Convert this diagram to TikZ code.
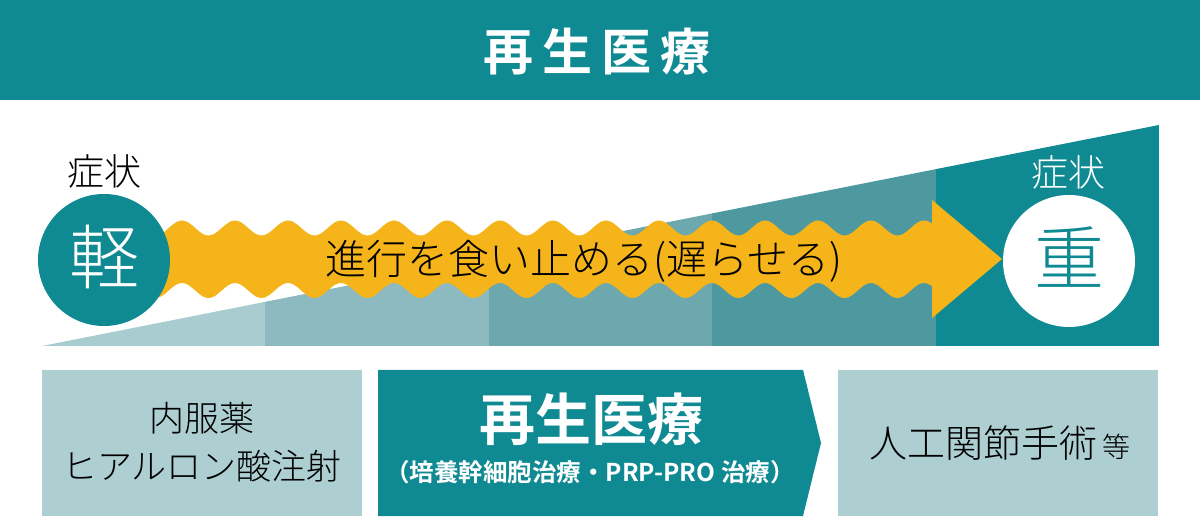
\documentclass[tikz,border=0pt]{standalone}
\usepackage{fontspec}
\newfontfamily\jp{Noto Sans CJK JP}[BoldFont={Noto Sans CJK JP Bold}]
\newfontfamily\jplight{Noto Sans CJK JP Light}
\definecolor{tealmain}{HTML}{0F8A92}
\definecolor{tealpale}{HTML}{AECFD2}
\definecolor{stepA}{HTML}{A8CCCF}
\definecolor{stepB}{HTML}{8CBAC0}
\definecolor{stepC}{HTML}{6CA8AE}
\definecolor{stepD}{HTML}{4E99A0}
\definecolor{arrowyellow}{HTML}{F5B41A}

\begin{document}
\begin{tikzpicture}[line cap=round,line join=round,x=1pt,y=-1pt,
  jptext/.style={inner sep=0pt,font=\jplight},
  jpbold/.style={inner sep=0pt,font=\jp\bfseries,text=white},
  wave/.style={samples=300}]
\useasboundingbox (0,0) rectangle (1200,518);
% header
\fill[tealmain] (0,0) rectangle (1200,100);
\draw (597,52) node[jpbold] (header) {\fontsize{50}{50}\selectfont 再\hspace{9pt}生\hspace{9pt}医\hspace{9pt}療};
% wedge
\begin{scope}
  \clip (42,346) -- (1159,125) -- (1159,346) -- cycle;
  \fill[stepA] (42,120) rectangle (265.4,346);
  \fill[stepB] (265.4,120) rectangle (488.8,346);
  \fill[stepC] (488.8,120) rectangle (712.2,346);
  \fill[stepD] (712.2,120) rectangle (935.6,346);
  \fill[tealmain] (935.6,120) rectangle (1159,346);
\end{scope}
% wavy arrow
\fill[arrowyellow] plot[wave,domain=110:934] (\x,{228-7.5*cos(6.7925*(\x-235))})
  -- plot[wave,domain=934:110] (\x,{290.5-7.5*cos(6.7925*(\x-235))}) -- cycle;
\fill[arrowyellow] (932,200) -- (1002,259) -- (932,318) -- cycle;
\draw (584,261) node[jptext] (progress) {\fontsize{41}{41}\selectfont 進行を食い止める(遅らせる)};
% ends
\fill[tealmain] (104,260) circle (66);
\fill[white] (1069,261) circle (66);
\draw (104,257) node[jptext,text=white] (mild) {\fontsize{70}{70}\selectfont 軽};
\draw (1069,257) node[jptext,text=tealmain] (severe) {\fontsize{70}{70}\selectfont 重};
\draw (104,171) node[jptext] (symA) {\fontsize{37}{37}\selectfont 症状};
\draw (1068,172) node[jptext,text=white] (symB) {\fontsize{37}{37}\selectfont 症状};
% treatments
\fill[tealpale] (42,370) rectangle (362,516);
\fill[tealmain] (378,370) -- (803,370) -- (821,443) -- (803,516) -- (378,516) -- cycle;
\fill[tealpale] (838,370) rectangle (1158,516);
\draw (202,418) node[jptext] (drugA) {\fontsize{35}{35}\selectfont 内服薬};
\draw (202,466) node[jptext] (drugB) {\fontsize{35}{35}\selectfont ヒアルロン酸注射};
\draw (591,419) node[jpbold] (regen) {\fontsize{56}{56}\selectfont 再生医療};
\draw (590,472) node[jpbold] (regensub) {\fontsize{24.5}{24.5}\selectfont （培養幹細胞治療・PRP-PRO 治療）};
\draw (1000,443) node[jptext] (surgery) {\fontsize{38}{38}\selectfont 人工関節手術\fontsize{28}{28}\selectfont\,等};
\end{tikzpicture}
\end{document}
